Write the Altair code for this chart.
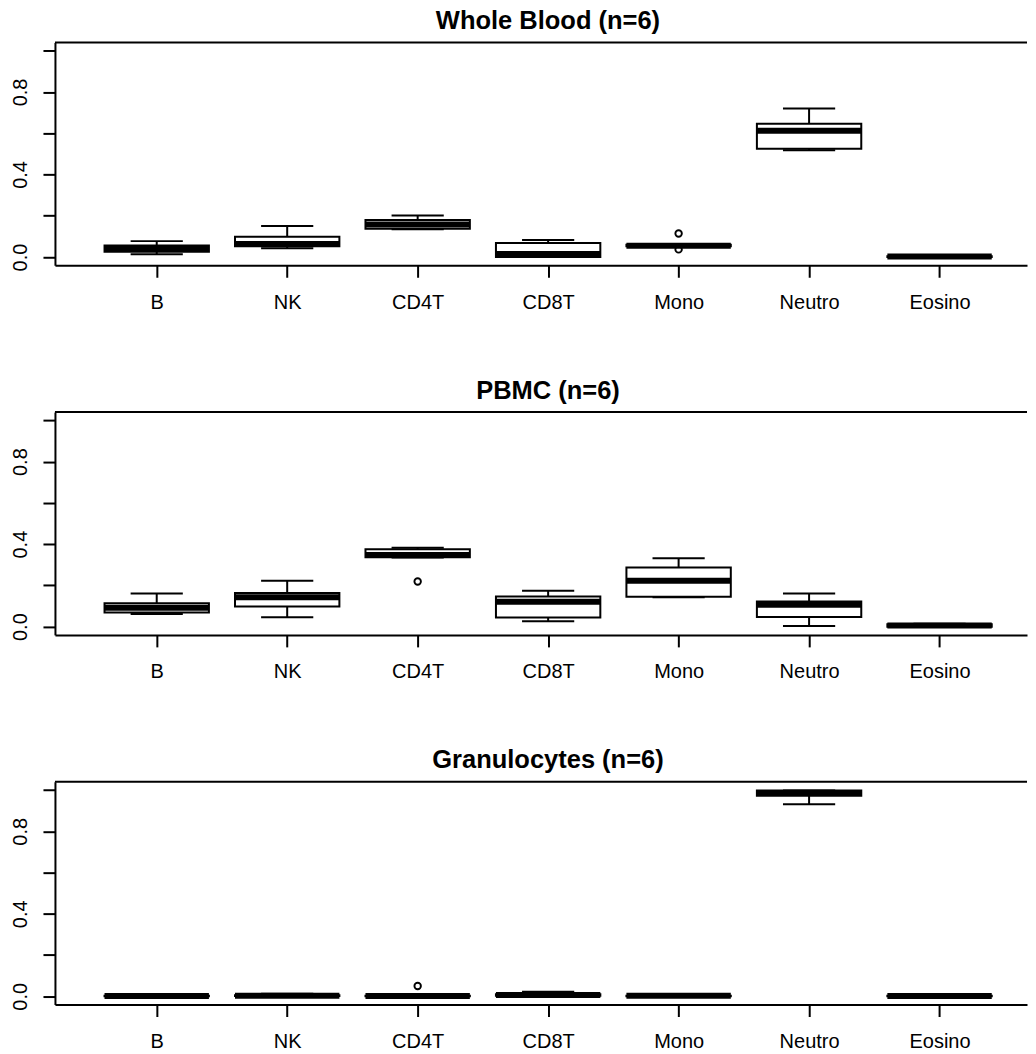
import json
import altair as alt
import pandas as pd

categories = ["B", "NK", "CD4T", "CD8T", "Mono", "Neutro", "Eosino"]
panel_titles = ["Whole Blood (n=6)", "PBMC (n=6)", "Granulocytes (n=6)"]

# Whole Blood
wb_min = [0.013, 0.042, 0.135, 0.000, 0.051, 0.517, 0.000]
wb_q1 = [0.026, 0.052, 0.137, 0.000, 0.052, 0.525, 0.000]
wb_med = [0.040, 0.063, 0.158, 0.014, 0.055, 0.612, 0.002]
wb_q3 = [0.056, 0.098, 0.180, 0.068, 0.059, 0.646, 0.004]
wb_max = [0.077, 0.150, 0.201, 0.082, 0.060, 0.720, 0.005]
wb_out_cat = ["Mono", "Mono"]
wb_out_val = [0.114, 0.037]

# PBMC
pb_min = [0.061, 0.045, 0.335, 0.026, 0.143, 0.003, 0.000]
pb_q1 = [0.069, 0.098, 0.337, 0.044, 0.145, 0.047, 0.000]
pb_med = [0.092, 0.143, 0.347, 0.121, 0.222, 0.106, 0.005]
pb_q3 = [0.114, 0.163, 0.375, 0.146, 0.287, 0.122, 0.012]
pb_max = [0.161, 0.222, 0.383, 0.174, 0.332, 0.161, 0.014]
pb_out_cat = ["CD4T"]
pb_out_val = [0.219]

# Granulocytes
gr_min = [0.000, 0.000, 0.000, 0.001, 0.000, 0.931, 0.000]
gr_q1 = [0.000, 0.001, 0.000, 0.002, 0.000, 0.972, 0.000]
gr_med = [0.001, 0.003, 0.001, 0.006, 0.002, 0.985, 0.001]
gr_q3 = [0.003, 0.005, 0.003, 0.010, 0.003, 0.997, 0.002]
gr_max = [0.010, 0.012, 0.004, 0.022, 0.010, 0.998, 0.003]
gr_out_cat = ["CD4T"]
gr_out_val = [0.050]

y_ticks = [0.0, 0.2, 0.4, 0.6, 0.8, 1.0]

YMIN, YMAX = -0.04, 1.04
W, H = 973, 223
PX_PER_UNIT = 130.6
XMIN = 0.22
XMAX = XMIN + W / PX_PER_UNIT
FONT = "Liberation Sans"

XS = alt.Scale(domain=[XMIN, XMAX], nice=False, zero=False)
YS = alt.Scale(domain=[YMIN, YMAX], nice=False, zero=False)
XAXIS = alt.Axis(
    values=list(range(1, len(categories) + 1)),
    labelExpr=json.dumps(categories) + "[round(datum.value) - 1]",
    title="", labelPadding=15, labelFlush=False, labelOverlap=False, grid=False,
)
YAXIS = alt.Axis(
    values=y_ticks,
    labelExpr="(round(datum.value * 10) % 4 == 0) ? format(datum.value, '.1f') : ''",
    title="", labelAngle=270, labelPadding=12, labelFlush=False, grid=False,
    labelOverlap=False, minExtent=47, maxExtent=47,
)


def X(field):
    return alt.X(field, scale=XS, axis=XAXIS)


def Y(field):
    return alt.Y(field, scale=YS, axis=YAXIS)


def panel(title, mins, q1s, meds, q3s, maxs, out_cat, out_val):
    df = pd.DataFrame({
        "cat": categories,
        "pos": list(range(1, len(categories) + 1)),
        "lo": mins, "q1": q1s, "med": meds, "q3": q3s, "hi": maxs,
    })
    base = alt.Chart(df).transform_calculate(
        bx0="datum.pos - 0.4", bx1="datum.pos + 0.4",
        sx0="datum.pos - 0.2", sx1="datum.pos + 0.2",
    )
    stem = base.mark_rule(color="black", strokeWidth=2).encode(
        x=X("pos:Q"), y=Y("lo:Q"), y2="hi:Q",
    )
    staple_hi = base.mark_rule(color="black", strokeWidth=2).encode(
        x=X("sx0:Q"), x2="sx1:Q", y=Y("hi:Q")
    )
    staple_lo = base.mark_rule(color="black", strokeWidth=2).encode(
        x=X("sx0:Q"), x2="sx1:Q", y=Y("lo:Q")
    )
    box = base.mark_rect(fill="white", stroke="black", strokeWidth=2).encode(
        x=X("bx0:Q"), x2="bx1:Q", y=Y("q1:Q"), y2="q3:Q",
    )
    med = base.mark_rule(color="black", strokeWidth=6).encode(
        x=X("bx0:Q"), x2="bx1:Q", y=Y("med:Q")
    )
    odf = pd.DataFrame({
        "cat": out_cat,
        "pos": [categories.index(c) + 1 for c in out_cat],
        "val": out_val,
    })
    outl = alt.Chart(odf).mark_point(
        shape="circle", filled=False, color="black", size=42, strokeWidth=1.9, opacity=1
    ).encode(x=X("pos:Q"), y=Y("val:Q"))
    top = alt.Chart(pd.DataFrame({"t": [YMAX]})).mark_rule(
        color="black", strokeWidth=2
    ).encode(y=Y("t:Q"))
    return alt.layer(stem, staple_hi, staple_lo, box, med, outl, top).properties(
        width=W, height=H,
        title=alt.TitleParams(
            text=title, fontSize=25.5, font=FONT, fontWeight="bold", color="black",
            anchor="middle", frame="group", offset=7, dx=7,
        ),
    )


p1 = panel(panel_titles[0], wb_min, wb_q1, wb_med, wb_q3, wb_max, wb_out_cat, wb_out_val)
p2 = panel(panel_titles[1], pb_min, pb_q1, pb_med, pb_q3, pb_max, pb_out_cat, pb_out_val)
p3 = panel(panel_titles[2], gr_min, gr_q1, gr_med, gr_q3, gr_max, gr_out_cat, gr_out_val)

chart = alt.vconcat(p1, p2, p3, spacing=66).properties(
    padding={"left": 0, "right": 0, "top": 0, "bottom": 0},
    background="white",
).configure_view(strokeWidth=0).configure_axis(
    domainColor="black", domainWidth=2, tickColor="black", tickWidth=2,
    tickSize=12, labelFont=FONT, labelFontSize=20, labelColor="black", grid=False,
)

chart.save("out.html", embed_options={"renderer": "svg", "actions": False})
